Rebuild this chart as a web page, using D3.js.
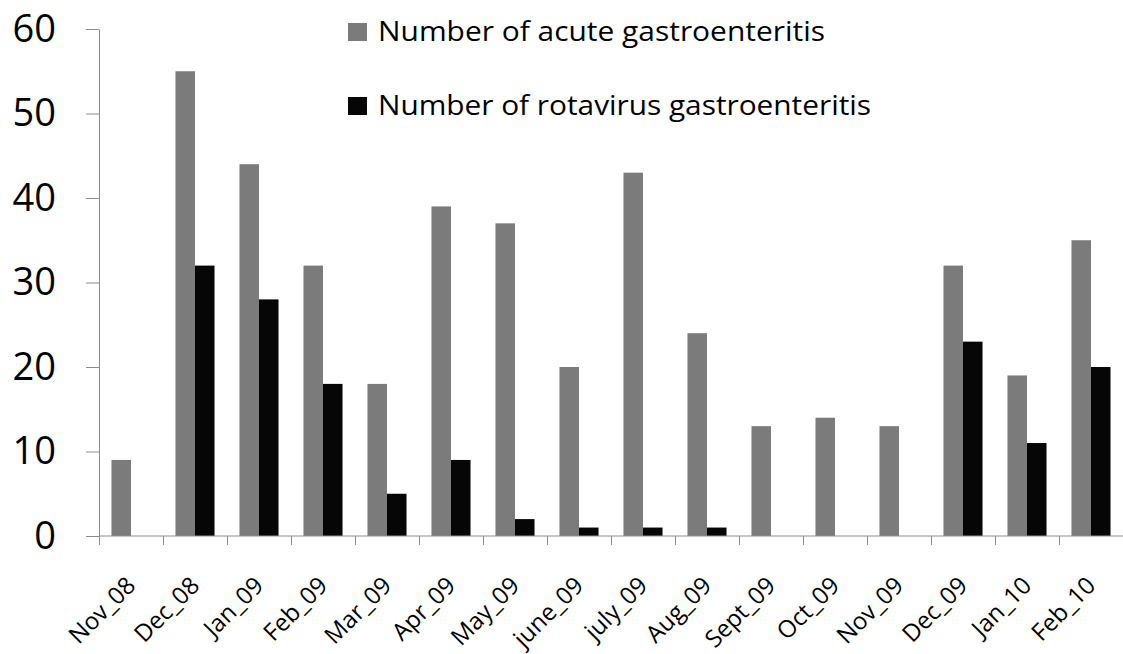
<!DOCTYPE html>
<html>
<head>
<meta charset="utf-8">
<script src="https://cdn.jsdelivr.net/npm/d3@7"></script>
<style>
    html, body { margin: 0; padding: 0; background: #fff; }
    svg { display: block; font-family: "Open Sans", "Liberation Sans", sans-serif; }
</style>
</head>
<body>
<div id="chart"></div>
<script>
const months = ['Nov_08', 'Dec_08', 'Jan_09', 'Feb_09', 'Mar_09', 'Apr_09', 'May_09', 'june_09',
    'july_09', 'Aug_09', 'Sept_09', 'Oct_09', 'Nov_09', 'Dec_09', 'Jan_10', 'Feb_10'];
const acute = [9, 55, 44, 32, 18, 39, 37, 20, 43, 24, 13, 14, 13, 32, 19, 35];
const rotavirus = [0, 32, 28, 18, 5, 9, 2, 1, 1, 1, 0, 0, 0, 23, 11, 20];
const seriesNames = ['Number of acute gastroenteritis', 'Number of rotavirus gastroenteritis'];
const seriesColors = ['#7b7b7b', '#060606'];
const yTicks = [0, 10, 20, 30, 40, 50, 60];

const W = 1123, H = 654;
const plotLeft = 99, plotRight = 1123, plotTop = 29, plotBottom = 536;

const svg = d3.select('#chart').append('svg')
    .attr('width', W)
    .attr('height', H);

const x0 = d3.scaleBand()
    .domain(months)
    .range([plotLeft, plotRight])
    .paddingInner(0.39)
    .paddingOuter(0.195);

const x1 = d3.scaleBand()
    .domain([0, 1])
    .range([0, x0.bandwidth()]);

const y = d3.scaleLinear()
    .domain([0, 60])
    .range([plotBottom, plotTop]);

const rows = months.map((m, i) => ({ month: m, values: [acute[i], rotavirus[i]] }));

// bars
const groups = svg.append('g').selectAll('g')
    .data(rows)
    .join('g')
    .attr('transform', d => `translate(${x0(d.month)},0)`);

groups.selectAll('rect')
    .data(d => d.values.map((v, k) => ({ k, v })))
    .join('rect')
    .attr('x', d => x1(d.k))
    .attr('width', x1.bandwidth())
    .attr('y', d => y(d.v))
    .attr('height', d => plotBottom - y(d.v))
    .attr('fill', d => seriesColors[d.k]);

// y axis
const yAxis = svg.append('g')
    .attr('transform', `translate(${plotLeft},0)`)
    .call(d3.axisLeft(y).tickValues(yTicks).tickSize(13).tickPadding(30).tickSizeOuter(0));
yAxis.select('.domain').attr('stroke', '#8c8c8c');
yAxis.selectAll('.tick line').attr('stroke', '#8c8c8c');
yAxis.selectAll('.tick text')
    .attr('font-size', 38)
    .attr('fill', '#000')
    .attr('font-family', '"Open Sans", sans-serif');

// x axis line
svg.append('line')
    .attr('x1', plotLeft).attr('x2', plotRight)
    .attr('y1', plotBottom).attr('y2', plotBottom)
    .attr('stroke', '#8c8c8c');

// x ticks at category boundaries
const step = x0.step();
const boundaries = months.map(m => x0(m) - x0.paddingInner() * step / 2);
svg.append('g').selectAll('line')
    .data(boundaries)
    .join('line')
    .attr('x1', d => Math.round(d) + 0.5).attr('x2', d => Math.round(d) + 0.5)
    .attr('y1', plotBottom).attr('y2', plotBottom + 9)
    .attr('stroke', '#8c8c8c');

// x labels, rotated
svg.append('g').selectAll('text')
    .data(months)
    .join('text')
    .attr('transform', d => `translate(${x0(d) + x0.bandwidth() / 2 + 6},${plotBottom + 51}) rotate(-45)`)
    .attr('text-anchor', 'end')
    .attr('font-size', 24)
    .attr('fill', '#000')
    .text(d => d);

// legend
const legendWidths = [447, 493];
const legend = svg.append('g');
seriesNames.forEach((name, k) => {
    const ly = 23 + k * 74;
    legend.append('rect')
        .attr('x', 348).attr('y', ly)
        .attr('width', 19).attr('height', 18)
        .attr('fill', seriesColors[k]);
    legend.append('text')
        .attr('x', 378).attr('y', ly + 18)
        .attr('font-size', 27.5)
        .attr('textLength', legendWidths[k])
        .attr('lengthAdjust', 'spacingAndGlyphs')
        .attr('fill', '#000')
        .text(name);
});
</script>
</body>
</html>
